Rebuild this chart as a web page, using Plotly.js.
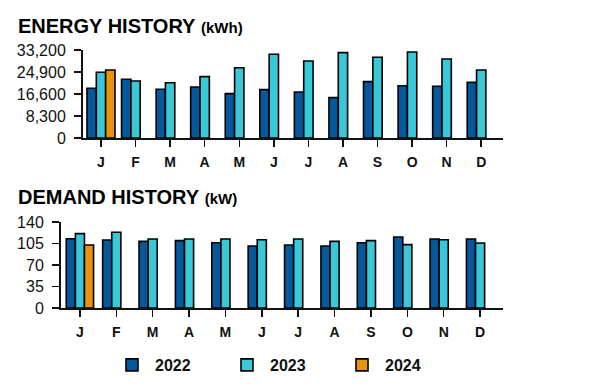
<!DOCTYPE html>
<html>
<head>
<meta charset="utf-8">
<script src="https://cdn.plot.ly/plotly-3.0.1.min.js"></script>
<style>
html,body{margin:0;padding:0;background:#fff;}
#chart{width:597px;height:390px;}
</style>
</head>
<body>
<div id="chart"></div>
<script>
const months = ["J","F","M","A","M","J","J","A","S","O","N","D"];
const years = ["2022","2023","2024"];
const energy2022 = [18750,22140,18370,19240,16730,18240,17360,15220,21250,19740,19500,21000];
const energy2023 = [24790,21500,20870,23140,26530,31570,29050,32200,30440,32450,29810,25660];
const energy2024 = [25660,null,null,null,null,null,null,null,null,null,null,null];
const demand2022 = [112.8,110.7,108.5,109.6,106.3,101,102.6,101,106.3,115.6,112.3,112.3];
const demand2023 = [121,123.2,112.3,112.3,112.3,111.2,112.3,108.5,109.6,103.1,111.2,105.8];
const demand2024 = [102.6,null,null,null,null,null,null,null,null,null,null,null];
const energyTicks = [0,8300,16600,24900,33200];
const demandTicks = [0,35,70,105,140];

const colors = ["#03599c","#3ac8d9","#e8940c"];
const xidx = months.map((m,i)=>i);
const W = 0.27, W2 = 0.25;

const energySeries = [energy2022, energy2023, energy2024];
const demandSeries = [demand2022, demand2023, demand2024];
const traces = [];
energySeries.forEach((s,k)=>{
  traces.push({type:"bar", x:xidx, y:s, name:years[k], xaxis:"x", yaxis:"y",
    width:W, offset:-1.5*W + k*W,
    marker:{color:colors[k], line:{color:"#000", width:1.6}},
    showlegend:false, hoverinfo:"y"});
});
demandSeries.forEach((s,k)=>{
  traces.push({type:"bar", x:xidx, y:s, name:years[k], xaxis:"x2", yaxis:"y2",
    width:W2, offset:-1.5*W2 + k*W2,
    marker:{color:colors[k], line:{color:"#000", width:1.6}},
    showlegend:true, hoverinfo:"y"});
});

const txt = "#111";
const FF = "Liberation Sans, Arial, sans-serif";
const xcommon = {
  range:[-0.52,11.63], tickmode:"array", tickvals:xidx, ticktext:months,
  showline:true, linecolor:"#111", linewidth:2, ticks:"outside", ticklen:7, tickwidth:1.5, tickcolor:"#111",
  showgrid:false, zeroline:false, fixedrange:true,
  tickfont:{family:FF, size:14, color:txt, weight:"bold"},
  ticklabelstandoff:3
};
const ycommon = {
  showline:true, linecolor:"#111", linewidth:2, ticks:"outside", ticklen:7, tickwidth:1.5, tickcolor:"#111",
  showgrid:false, zeroline:false, fixedrange:true,
  tickfont:{family:FF, size:16, color:txt},
  ticklabelstandoff:5
};

const layout = {
  width:597, height:390,
  margin:{l:0,r:0,t:0,b:0},
  paper_bgcolor:"#fff", plot_bgcolor:"#fff",
  barmode:"overlay",
  xaxis:Object.assign({}, xcommon, {domain:[83/597, 503/597], anchor:"y"}),
  yaxis:Object.assign({}, ycommon, {domain:[1-138/390, 1-50/390], anchor:"x", range:[0,33200],
    tickmode:"array", tickvals:energyTicks, tickformat:","}),
  xaxis2:Object.assign({}, xcommon, {domain:[61/597, 503/597], anchor:"y2"}),
  yaxis2:Object.assign({}, ycommon, {domain:[1-308/390, 1-222/390], anchor:"x2", range:[0,140],
    tickmode:"array", tickvals:demandTicks}),
  showlegend:true,
  legend:{orientation:"h", x:109/597, y:1-365/390, xanchor:"left", yanchor:"middle",
    font:{family:FF, size:16, color:txt, weight:"bold"},
    itemwidth:36,
    entrywidth:64, entrywidthmode:"pixels", itemclick:false, itemdoubleclick:false,
    bgcolor:"rgba(0,0,0,0)"},
  annotations:[
    {xref:"paper", yref:"paper", x:16/597, y:1-26/390, xanchor:"left", yanchor:"middle", showarrow:false,
     text:"<b>ENERGY HISTORY</b> <b><span style='font-size:15px'>(kWh)</span></b>",
     font:{family:FF, size:20, color:"#000"}},
    {xref:"paper", yref:"paper", x:16/597, y:1-197/390, xanchor:"left", yanchor:"middle", showarrow:false,
     text:"<b>DEMAND HISTORY</b> <b><span style='font-size:15px'>(kW)</span></b>",
     font:{family:FF, size:20, color:"#000"}}
  ]
};

Plotly.newPlot("chart", traces, layout, {displayModeBar:false, staticPlot:true});
</script>
</body>
</html>
